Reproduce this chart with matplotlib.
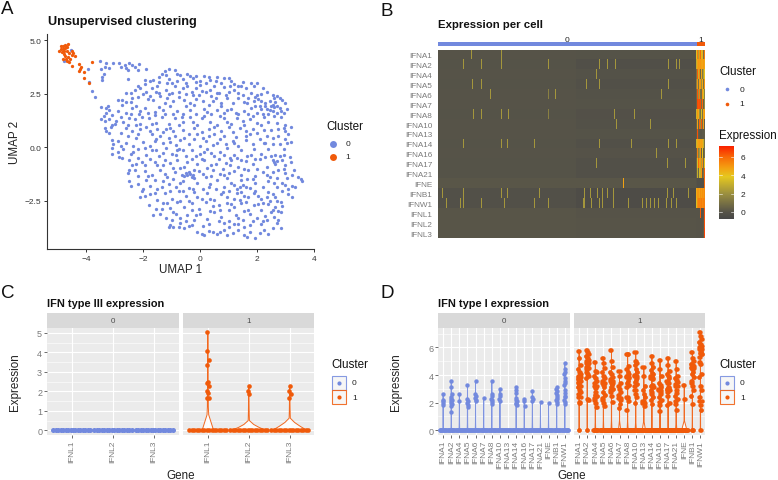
import numpy as np
import matplotlib
matplotlib.use("Agg")
import matplotlib.pyplot as plt
from matplotlib.colors import LinearSegmentedColormap
from matplotlib.patches import Rectangle

plt.rcParams['font.family'] = ['Liberation Sans', 'DejaVu Sans']

W, H = 778, 481
BLUE = '#7289DE'
ORANGE = '#F05A0A'
GRAY = '#7a7a7a'

# panel A, UMAP coordinates
cluster1_umap = [(-4.89,4.75),(-4.81,4.6),(-4.64,4.83),(-4.95,4.52),(-4.87,4.44),(-4.75,4.63),(-4.84,4.75),(-4.73,4.72),
    (-4.69,4.52),(-4.52,4.52),(-4.46,4.41),(-4.4,4.28),(-4.75,4.25),(-4.64,4.21),(-4.81,4.13),(-4.69,4.05),(-4.6,3.97),
    (-4.52,3.82),(-4.58,4.13),(-4.25,3.9),(-4.2,3.74),(-4.28,3.58),(-4.07,3.5),(-4.07,3.22),(-3.9,3.0),(-3.81,3.97),
    (-4.78,4.5),(-4.7,4.68),(-4.8,4.35),(-4.72,4.15),(-4.62,4.4),(-4.5,4.3),(-4.22,3.65),(-4.9,4.6),(-4.77,4.78)]
cluster0_umap = [(-4.55,4.55),(-4.8,4.05),(-3.93,3.65),(-3.9,3.05),(-3.8,2.65),(-3.7,2.35),
    (-3.52,4.05),(-3.3,3.95),(-3.05,3.93),(-2.85,3.93),(-2.8,3.75),(-3.2,3.7),(-3.35,3.75),(-3.5,3.65),(-3.45,3.3),
    (-3.45,3.15),(-3.4,3.45),(-2.65,3.85),(-2.6,3.7),(-2.5,3.92),(-2.4,3.85),(-2.3,3.75),(-2.2,3.6),(-2.55,3.6),
    (-2.15,3.9),(-1.9,3.65),(-1.25,3.55),(-1.1,3.65),(-0.9,3.6),(-0.8,3.45),(-0.7,3.4),
    (-2.55,3.2),(-1.95,3.15),(-1.95,2.95),(-1.65,3.15),(-1.45,3.3),(-1.35,3.45),(-1.2,3.4),(-1.1,3.2),(-1.0,3.0),
    (-0.8,3.1),(-0.6,3.2),(-0.45,3.45),(-0.35,3.35),(-0.25,3.25),(-0.15,3.35),(0.15,3.35),(0.3,3.3),(0.35,3.15),
    (0.2,3.0),(0.0,3.1),(0.55,3.1),(0.75,3.0),(0.85,3.25),(1.0,3.25),(1.1,3.1),(1.2,2.95),(1.5,3.05),(1.8,3.0),
    (1.9,2.85),(2.0,3.0),(-0.5,3.0),(-1.45,3.05),(-1.75,3.1),(-2.2,2.85),(-1.5,2.85),
    (-2.6,2.55),(-2.3,2.7),(-2.1,2.75),(-1.9,2.6),(-1.7,2.75),(-1.45,2.55),(-1.2,2.7),(-1.0,2.55),(-0.75,2.6),
    (-0.6,2.75),(-0.5,2.5),(-0.3,2.6),(-0.15,2.75),(0.0,2.9),(0.05,2.65),(0.2,2.6),(0.35,2.7),(0.5,2.85),(0.65,2.55),
    (0.85,2.8),(1.0,2.6),(1.2,2.7),(1.35,2.55),(1.6,2.75),(1.8,2.55),(2.0,2.45),(2.2,2.75),(2.15,2.5),(2.35,2.6),
    (2.55,2.45),(2.7,2.4),(-0.25,2.45),(0.4,2.4),
    (-2.4,2.3),(-2.2,2.35),(-2.0,2.5),(-1.85,2.25),(-1.65,2.2),(-1.4,2.4),(-1.15,2.3),(-0.95,2.15),(-0.75,2.35),
    (-0.55,2.2),(-0.35,2.05),(-0.15,2.25),(0.1,2.15),(0.3,2.0),(0.55,2.3),(0.75,2.05),(0.95,2.3),(1.15,2.05),
    (1.35,2.3),(1.55,2.1),(1.7,2.3),(1.9,2.15),(2.05,2.25),(2.3,2.05),(2.45,2.15),(2.6,2.3),(2.8,2.3),(2.9,2.2),
    (3.0,2.05),(2.55,2.0),(-2.9,2.2),(-2.75,2.2),(-2.6,2.1),(-2.75,2.0),
    (-3.5,1.9),(-3.3,1.85),(-3.25,1.95),(-3.2,1.75),(-2.9,1.7),(-2.6,1.6),(-2.4,1.85),(-2.25,1.95),(-2.1,1.7),
    (-1.85,1.6),(-1.6,1.65),(-1.3,1.75),(-1.05,1.95),(-0.8,1.7),(-0.6,1.55),(-0.35,1.75),(-0.15,1.55),(0.15,1.8),
    (0.4,1.55),(0.6,1.75),(0.85,1.6),(1.1,1.8),(1.35,1.55),(1.55,1.7),(1.8,1.85),(2.0,1.6),(2.15,1.8),(2.3,1.95),
    (2.45,1.75),(2.6,1.9),(2.8,1.85),(2.7,1.6),(3.05,1.8),(2.95,1.6),
    (-3.5,1.3),(-3.4,1.45),(-3.35,1.25),(-3.2,1.3),(-3.1,1.5),(-3.0,1.1),(-2.8,1.4),(-2.7,1.2),(-2.55,1.05),(-2.3,1.3),
    (-2.1,1.1),(-2.05,1.4),(-1.8,1.35),(-1.55,1.15),(-1.35,1.4),(-1.1,1.1),(-0.9,1.35),(-0.6,1.2),(-0.35,1.4),
    (-0.1,1.05),(0.15,1.45),(0.35,1.2),(0.6,1.05),(0.85,1.35),(1.1,1.1),(1.3,1.35),(1.55,1.05),(1.75,1.3),(2.0,1.15),
    (2.25,1.4),(2.4,1.2),(2.7,1.15),(2.85,1.4),(3.0,1.05),(3.2,0.95),
    (-3.35,0.9),(-3.3,0.75),(-3.2,0.65),(-2.6,0.9),(-2.4,0.75),(-2.1,0.85),(-1.9,0.95),(-1.7,0.6),(-1.5,0.85),(-1.3,0.7),
    (-1.05,0.9),(-0.9,0.55),(-0.6,0.8),(-0.4,0.6),(-0.2,0.9),(0.05,0.7),(0.3,0.85),(0.5,0.6),(0.75,0.75),(1.0,0.95),
    (1.15,0.7),(1.4,0.9),(1.6,0.55),(1.85,0.85),(2.0,0.65),(2.35,0.55),(2.5,0.8),(2.75,0.55),(3.0,0.75),(3.1,0.6),
    (-3.1,0.35),(-3.05,0.15),(-2.9,0.3),(-2.6,0.2),(-2.25,0.45),(-2.0,0.25),(-1.75,0.05),(-1.55,0.4),(-1.3,0.2),(-1.1,0.45),
    (-0.85,0.1),(-0.7,0.35),(-0.4,0.15),(-0.2,0.4),(0.0,0.05),(0.2,0.3),(0.45,0.1),(0.7,0.4),(0.9,0.15),(1.15,0.3),
    (1.35,0.05),(1.6,0.35),(1.85,0.15),(2.1,0.4),(2.3,0.2),(2.55,0.45),(2.8,0.15),(3.05,0.2),(3.2,0.25),(3.0,0.4),
    (-3.1,-0.05),(-3.1,-0.3),(-2.9,-0.2),(-2.7,-0.1),(-2.45,-0.3),(-2.2,-0.1),(-1.9,-0.35),(-1.7,-0.15),(-1.45,-0.4),
    (-1.2,-0.05),(-1.0,-0.3),(-0.75,-0.1),(-0.5,-0.4),(-0.3,-0.15),(0.0,-0.3),(0.25,-0.1),(0.5,-0.4),(0.7,-0.2),(0.95,-0.05),
    (1.2,-0.35),(1.45,-0.15),(1.65,-0.4),(1.9,-0.1),(2.15,-0.3),(2.4,-0.1),(2.65,-0.35),(2.95,-0.1),(3.15,-0.45),
    (-2.5,-0.6),(-2.4,-0.85),(-2.05,-0.7),(-1.75,-0.55),(-1.5,-0.85),(-1.25,-0.6),(-1.05,-0.75),(-0.8,-0.6),(-0.55,-0.9),
    (-0.3,-0.55),(-0.1,-0.8),(0.15,-0.6),(0.4,-0.85),(0.65,-0.55),(0.9,-0.75),(1.1,-0.6),(1.35,-0.9),(1.6,-0.65),(1.85,-0.8),
    (2.1,-0.55),(2.55,-0.6),(2.6,-0.7),(2.7,-0.65),(2.65,-0.8),(3.0,-0.85),(3.2,-0.7),(2.9,-0.6),
    (-2.55,-1.2),(-2.5,-1.05),(-2.2,-1.35),(-1.95,-1.1),(-1.7,-1.3),(-1.4,-1.05),(-1.15,-1.4),(-0.9,-1.15),(-0.65,-1.3),
    (-0.45,-1.3),(-0.35,-1.25),(-0.3,-1.4),(-0.05,-1.1),(0.2,-1.4),(0.45,-1.05),(0.7,-1.25),(0.95,-1.45),(1.2,-1.1),(1.45,-1.3),
    (1.7,-1.05),(1.95,-1.35),(2.2,-1.15),(2.45,-1.4),(2.75,-1.05),(3.0,-1.2),(3.25,-1.3),(3.45,-1.4),(3.55,-1.5),(3.6,-1.6),(3.05,-1.45),
    (-2.5,-1.6),(-2.45,-1.8),(-2.0,-1.95),(-1.75,-1.8),(-1.5,-1.95),(-1.3,-1.6),(-1.1,-1.7),(-0.85,-1.85),(-0.6,-1.6),(-0.4,-1.9),
    (-0.1,-1.65),(0.1,-1.95),(0.35,-1.7),(0.6,-1.55),(0.85,-1.85),(1.1,-1.65),(1.3,-1.95),(1.5,-1.75),(1.75,-1.9),(1.95,-1.65),
    (2.2,-1.85),(2.4,-1.6),(2.7,-1.85),(2.9,-1.65),(3.1,-1.95),(3.35,-1.85),(3.25,-1.8),
    (-2.05,-2.05),(-1.95,-2.3),(-2.1,-2.35),(-1.75,-2.2),(-1.5,-2.45),(-1.25,-2.15),(-1.0,-2.4),(-0.75,-2.05),(-0.5,-2.3),(-0.2,-2.1),
    (0.05,-2.4),(0.25,-2.15),(0.5,-2.45),(0.75,-2.2),(1.0,-2.05),(1.2,-2.4),(1.45,-2.1),(1.7,-2.35),(1.9,-2.15),(2.15,-2.4),
    (2.4,-2.1),(2.65,-2.35),(2.9,-2.05),(3.1,-2.2),(3.25,-2.35),
    (-1.8,-2.7),(-1.55,-2.9),(-1.3,-2.6),(-1.05,-2.85),(-0.8,-2.55),(-0.55,-2.8),(-0.3,-2.6),(-0.05,-2.9),(0.2,-2.55),(0.45,-2.75),
    (0.7,-2.95),(0.95,-2.6),(1.2,-2.8),(1.45,-2.6),(1.7,-2.95),(1.9,-2.7),(2.15,-2.95),(2.4,-2.65),(2.65,-2.8),(2.85,-2.55),(2.7,-2.5),(2.9,-2.75),(2.55,-2.95),
    (-1.65,-3.15),(-1.4,-3.1),(-1.2,-3.3),(-0.95,-3.05),(-0.7,-3.3),(-0.45,-3.15),(-0.2,-3.4),(0.0,-3.1),(0.25,-3.35),(0.5,-3.05),
    (0.75,-3.25),(1.0,-3.45),(1.25,-3.15),(1.5,-3.4),(1.75,-3.1),(2.0,-3.3),(2.2,-3.45),(2.5,-3.05),(2.6,-3.25),(2.75,-3.4),(2.85,-3.05),
    (-1.05,-3.65),(-0.95,-3.75),(-1.1,-3.75),(-0.7,-3.55),(-0.55,-3.8),(-0.3,-3.65),(-0.1,-3.95),(0.05,-4.05),(0.15,-4.1),(0.45,-3.95),
    (0.6,-4.05),(0.7,-3.95),(0.95,-4.1),(1.0,-3.75),(1.2,-3.6),(1.35,-3.85),(1.55,-3.75),(1.55,-4.1),(1.75,-3.65),(1.65,-4.2),
    (1.95,-4.25),(2.1,-4.0),(2.25,-3.85),(2.4,-4.05),(2.7,-3.55),(2.85,-3.8),(-0.4,-3.7),(0.3,-3.6),(1.15,-4.0),
    # second pass through the cloud
    (-2.45,2.1),(-1.75,2.4),(-1.25,2.05),(-0.45,2.85),(0.45,2.15),(1.05,2.85),(1.45,2.85),(1.95,2.35),(2.5,1.95),(2.85,1.7),
    (-2.95,1.25),(-2.45,1.55),(-1.95,1.85),(-1.45,1.9),(-0.95,1.55),(-0.5,1.95),(0.05,1.35),(0.7,1.45),(1.25,1.6),(1.95,1.95),
    (-2.25,1.05),(-1.7,1.1),(-1.2,0.85),(-0.75,1.05),(-0.25,1.2),(0.5,0.95),(0.95,1.2),(1.5,1.25),(2.15,1.05),(2.6,1.45),
    (-2.8,0.65),(-2.2,0.6),(-1.6,0.3),(-1.05,0.25),(-0.55,0.45),(0.1,0.45),(0.6,0.2),(1.25,0.5),(1.75,0.6),(2.25,0.8),
    (-2.8,0.05),(-2.35,0.05),(-1.95,-0.05),(-1.3,-0.25),(-0.85,-0.35),(-0.15,-0.4),(0.4,-0.25),(0.85,-0.35),(1.3,-0.5),(1.8,-0.35),
    (2.3,-0.45),(2.8,-0.4),(-2.75,-0.5),(-2.2,-0.5),(-1.6,-0.7),(-0.95,-0.95),(-0.45,-0.7),(0.25,-0.95),(0.8,-1.0),(1.45,-0.6),
    (2.0,-1.0),(2.35,-0.9),(2.95,-1.0),(-2.3,-1.05),(-1.6,-1.55),(-0.95,-1.5),(-0.2,-1.45),(0.4,-1.35),(1.0,-1.2),(1.65,-1.5),
    (2.35,-1.3),(2.7,-1.45),(-2.2,-1.7),(-1.05,-2.05),(-0.25,-1.95),(0.55,-1.95),(1.2,-1.75),(1.95,-2.05),(2.6,-1.65),(3.0,-1.75),
    (-1.6,-2.15),(-0.7,-2.5),(-0.1,-2.35),(0.95,-2.35),(1.4,-2.45),(2.05,-2.65),(2.55,-2.2),(-1.35,-2.9),(-0.3,-2.95),(0.35,-3.0),
    (1.0,-2.95),(1.55,-3.0),(2.3,-3.2),(2.75,-3.0),(-1.0,-3.4),(-0.5,-3.45),(0.3,-3.9),(0.85,-3.55),(1.75,-3.95),(2.15,-3.6),
    (-1.6,1.5),(-0.2,2.0),(0.6,2.55),(1.5,2.45),(2.15,2.15),(2.65,2.1),(2.4,1.55),(2.95,0.9),(1.2,0.2),(0.3,0.55),
    (-1.4,0.55),(-2.55,0.55),(-0.8,-0.15),(0.05,-0.55),(1.05,-0.85),(1.55,-2.3),(0.65,-2.7),(-0.7,-1.65),(-1.9,-1.55),(-2.25,-0.8),
    (-3.1,1.05),(-2.5,1.35),(-1.1,2.5),(0.75,1.95),(1.85,1.45),(2.75,0.85),(2.55,0.15),(2.95,-0.35),(3.3,-1.05),(2.45,-2.5),
    # third pass, the denser stretches
    (-1.55,2.6),(-0.9,2.85),(-0.05,2.45),(0.9,2.45),(1.65,2.05),(2.2,1.55),(2.55,1.7),(2.35,1.8),(2.1,1.95),(2.7,1.95),
    (-2.15,1.55),(-1.25,1.55),(-0.65,1.4),(0.25,1.65),(0.95,1.75),(1.7,1.55),(-1.75,0.75),(-0.95,0.75),(-0.1,0.6),(0.85,0.55),
    (1.6,0.75),(2.25,0.2),(-2.35,-0.2),(-1.55,-0.15),(-0.6,-0.15),(0.15,-0.2),(1.05,-0.5),(1.95,-0.55),(2.5,-0.4),(-1.95,-0.85),
    (-1.3,-0.85),(-0.7,-0.95),(-0.2,-1.05),(0.55,-0.8),(1.55,-1.0),(-0.55,-1.35),(-0.5,-1.2),(-0.25,-1.3),(-0.4,-1.15),(-1.85,-1.35),
    (-1.25,-1.25),(0.1,-1.25),(0.85,-1.3),(1.45,-1.55),(1.6,-1.85),(1.4,-1.85),(1.85,-1.5),(2.55,-1.15),(-1.35,-1.85),(-0.6,-2.05),
    (0.3,-1.85),(0.8,-2.1),(1.3,-2.15),(2.05,-2.3),(2.35,-2.35),(-1.15,-2.6),(-0.4,-2.5),(0.35,-2.4),(1.1,-2.65),(1.6,-2.55),
    (2.2,-2.6),(-0.85,-3.1),(-0.15,-3.15),(0.65,-3.45),(1.35,-3.3),(1.85,-3.45),(2.35,-3.4),(-0.75,-3.75),(0.1,-3.7),(0.85,-3.85),
    (1.35,-3.6),(2.55,-3.8),(-1.15,3.0),(-0.15,3.05),(0.6,3.3),(1.35,2.85),(-2.45,2.55),(-3.3,1.6),(-3.15,0.95),(-2.85,-0.45)]

# panel B, heatmap read as small columns
heat_genes = ['IFNA1','IFNA2','IFNA4','IFNA5','IFNA6','IFNA7','IFNA8','IFNA10','IFNA13','IFNA14','IFNA16','IFNA17','IFNA21',
              'IFNE','IFNB1','IFNW1','IFNL1','IFNL2','IFNL3']
base_left = [0.0,-0.05,0.0,-0.05,0.0,0.0,-0.03,0.0,0.0,-0.05,0.0,-0.03,-0.03,0.08,-0.2,-0.2,0.05,0.05,0.05]
base_right = [-0.05,-0.25,-0.1,-0.2,-0.1,-0.03,-0.15,-0.12,-0.03,-0.2,-0.08,-0.18,-0.18,0.08,-0.4,-0.4,0.0,0.03,0.03]
# spikes per gene, as cell index within the 258 shown cells of cluster 0
spike_cells = {
    'IFNA1': [33,63],
    'IFNA2': [25,43,63,110,161,169,177,230,238,241],
    'IFNA4': [158],
    'IFNA5': [34,43,148,161,230],
    'IFNA6': [52,110,117,223],
    'IFNA8': [35,43,63,70,110,176,196],
    'IFNA10': [178,212],
    'IFNA14': [25,63,69,96,161,193,230,238],
    'IFNA16': [218],
    'IFNA17': [158,229,247],
    'IFNE': [185],
    'IFNB1': [4,25,63,69,101,146,152,159,164,169,175,229,235,250],
    'IFNW1': [8,22,25,43,66,96,110,145,146,153,161,164,175,190,204,208,212,216,220,228,233,238],
}
# values of the 9 cluster 1 columns, gene by gene
cluster1_cells = [
    [3.6,5.6,2.5,5.0,6.0,3.5,4.5,1.0,5.6],
    [3.0,4.8,5.0,4.9,5.0,4.8,4.7,5.0,4.6],
    [1.0,6.2,3.0,5.4,0.6,4.7,1.2,2.5,4.0],
    [1.5,5.0,1.0,4.8,5.0,2.0,4.6,1.0,5.0],
    [0.6,6.3,2.0,5.6,1.0,0.8,5.0,3.5,1.5],
    [0.5,6.5,6.3,6.4,6.4,1.0,6.0,0.5,2.0],
    [3.2,5.0,4.5,2.0,1.0,3.5,1.0,4.6,5.0],
    [0.5,4.8,0.5,6.0,2.0,6.3,1.0,4.9,0.4],
    [0.2,6.4,0.4,0.2,0.1,0.1,0.2,0.2,0.3],
    [3.2,4.6,4.8,4.9,4.7,4.8,4.6,3.0,1.0],
    [0.3,5.5,1.5,2.2,5.0,0.5,4.0,0.3,1.0],
    [0.6,3.5,6.0,4.8,5.0,2.5,5.2,1.0,4.0],
    [0.4,3.0,0.6,3.4,3.0,5.0,0.4,1.0,6.2],
    [0.0,-0.2,-0.2,-0.2,-0.2,-0.2,-0.2,-0.2,6.0],
    [4.5,5.0,5.0,4.7,5.2,4.9,5.2,5.0,5.3],
    [3.5,5.2,5.5,5.5,5.4,5.6,5.3,5.5,5.5],
    [0.0,0.0,0.0,0.0,6.2,0.0,0.0,0.2,6.4],
    [0.0,0.0,0.0,0.0,0.0,0.0,0.0,0.2,6.4],
    [0.0,0.0,0.0,0.0,0.0,0.0,0.0,0.3,6.6]]
spike_value = 2.2
cbar_ticks = [0,2,4,6]

# panel C, type III genes
genes_iii = ['IFNL1','IFNL2','IFNL3']
iii_points = {
    'IFNL1': [(-0.01,5.02),(-0.01,4.05),(0.02,3.62),(-0.01,3.35),(0.01,2.5),(-0.03,2.42),(0.03,2.25),(-0.01,2.0),(0.01,1.9),(-0.03,1.68),(0.02,1.68)],
    'IFNL2': [(0.0,2.26),(-0.02,2.0),(0.01,1.88)],
    'IFNL3': [(0.0,2.26),(-0.02,2.0),(0.02,1.88),(-0.01,1.68)],
}
iii_violin_y = {'IFNL1': [0,0.4,0.8,1.2,5.02], 'IFNL2': [0,0.15,0.3,0.5,0.9,2.26], 'IFNL3': [0,0.2,0.4,0.62,1.0,2.26]}
iii_violin_w = {'IFNL1': [0.14,0.08,0.02,0.012,0.002], 'IFNL2': [0.42,0.25,0.12,0.015,0.01,0.002], 'IFNL3': [0.42,0.26,0.12,0.015,0.01,0.002]}

# panel D, type I genes
genes_i = ['IFNA1','IFNA2','IFNA4','IFNA5','IFNA6','IFNA7','IFNA8','IFNA10','IFNA13','IFNA14','IFNA16','IFNA17','IFNA21','IFNE','IFNB1','IFNW1']
i_cluster0 = [[2.65,2.2,2.1,2.0,1.85],
    [3.55,3.15,2.6,2.4,2.3,2.2,2.1,2.0,1.9,1.75,1.35],
    [2.6,2.15],
    [3.3,2.25,2.1,2.0,1.85,1.65],
    [3.55,2.6,2.45,2.35,2.2,2.1],
    [2.35],
    [3.55,2.65,2.45,2.3,2.2,2.05,1.9],
    [3.0,2.6,2.45,2.3,2.1],
    [],
    [3.1,2.95,2.7,2.35,2.2,2.1,2.0,1.9,1.8],
    [2.25,2.15,1.75],
    [2.85,2.4,2.25,2.1],
    [2.05],
    [2.0],
    [3.1,3.0,2.85,2.7,2.55,2.4,2.3,2.2,2.05,1.9],
    [4.9,4.4,4.2,4.05,3.8,3.6,3.4,3.25,2.95,2.7,2.5,2.4,2.2,2.05,1.9]]
i_cluster1 = [[5.75,5.2,4.7,4.4,4.25,4.05,3.95,3.85,3.8,3.75,3.7,3.6,3.5,3.4,3.3,3.2,3.1,2.95,2.8,2.6,2.4,2.05,2.0],
    [5.8,5.7,5.55,5.4,5.25,5.1,5.0,4.9,4.85,4.75,4.6,4.5,4.4,4.25,4.1,3.95,3.8,2.25,2.2],
    [4.95,4.3,4.2,3.9,3.75,3.55,3.4,3.2,3.05,2.75,2.55,2.45,2.35,2.2,2.0,1.7],
    [5.2,4.9,4.5,4.2,3.95,3.75,3.6,3.4,3.3,3.1,2.75,2.55,2.35,2.2,2.0,1.75],
    [5.8,5.0,4.6,4.25,4.05,3.85,3.7,3.6,3.45,3.3,3.15,3.0,2.9,2.75,2.5,2.05],
    [4.3,3.9,3.4,3.2,3.0,2.8,2.55,2.35,2.2,1.9,1.6],
    [5.55,5.5,4.65,4.4,4.2,4.05,3.95,3.85,3.75,3.6,3.45,3.3,3.1,2.4,2.35,2.1,1.5],
    [5.7,5.0,4.9,4.7,4.4,4.2,4.0,3.9,3.8,3.65,3.5,3.35,3.2,2.9,2.6,2.4,2.0],
    [4.55,3.95,3.2,2.9,2.65,2.4,2.15,1.95,1.75],
    [5.4,4.9,4.6,4.35,4.15,4.05,3.9,3.8,3.7,3.3,3.2,3.1,2.95,2.8,2.6,2.4,2.2,1.9],
    [5.1,4.4,3.9,3.4,3.25,3.1,3.0,2.9,2.75,2.6,2.4,2.2,2.05,1.8,1.4],
    [5.25,4.7,4.3,4.05,3.9,3.75,3.6,3.4,3.1,3.05,3.0,2.95,2.9,2.8,2.5,2.0,1.8],
    [5.0,4.45,3.9,3.8,3.65,3.5,3.35,3.2,2.95,2.7,2.5,2.3,2.1,1.9,1.5],
    [3.3,2.3],
    [5.7,5.2,5.0,4.8,4.7,4.65,4.6,4.5,4.4,4.2,4.05,3.85,3.6,3.4,3.2,2.9,2.5,1.9],
    [7.1,6.85,6.6,6.4,6.25,6.1,6.0,5.9,5.8,5.7,5.6,5.5,5.3,4.95,4.8,4.1,3.85,3.2,2.9,2.4,2.15,1.85,1.5]]
i_violin_base = [0.03,0.03,0.05,0.05,0.06,0.14,0.07,0.08,0.2,0.05,0.08,0.06,0.08,0.33,0.03,0.02]
# half width of the zero band in cluster 1, per gene
i_zero_spread = [0.06,0.06,0.3,0.45,0.45,0.5,0.45,0.45,0.5,0.45,0.5,0.45,0.5,0.5,0.1,0.06]
jitter = [0.0,-0.08,0.09,-0.15,0.06,0.17,-0.04,-0.19,0.13,0.02,-0.1,0.2,-0.17]
zero_band = [-0.45,-0.39,-0.33,-0.27,-0.21,-0.15,-0.09,-0.03,0.03,0.09,0.15,0.21,0.27,0.33,0.39,0.45]


def px_axes(fig, left, top, right, bottom):
    return fig.add_axes([left / W, 1 - bottom / H, (right - left) / W, (bottom - top) / H])


def px_text(fig, x, y, s, **kw):
    kw.setdefault('va', 'center')
    fig.text(x / W, 1 - y / H, s, **kw)


def px_rect(fig, x0, y0, x1, y1, **kw):
    fig.add_artist(Rectangle((x0 / W, 1 - y1 / H), (x1 - x0) / W, (y1 - y0) / H, transform=fig.transFigure, **kw))


def px_dot(fig, x, y, color, size):
    fig.add_artist(plt.Line2D([x / W], [1 - y / H], marker='o', ms=size, mfc=color, mec='none', ls='', transform=fig.transFigure))


def draw_violin(ax, pos, ys, widths, color):
    ys = np.array(ys)
    widths = np.array(widths)
    xs = np.concatenate([pos - widths, (pos + widths)[::-1]])
    ax.fill(xs, np.concatenate([ys, ys[::-1]]), fc='white', ec=color, lw=0.7, zorder=2, alpha=0.9)


def facet_style(ax, genes, ymajor, yminor, ylim, show_y):
    ax.set_facecolor('#EBEBEB')
    ax.set_xlim(0.4, len(genes) + 0.6)
    ax.set_ylim(*ylim)
    ax.set_xticks(range(1, len(genes) + 1))
    ax.set_xticklabels(genes, rotation=90, fontsize=6, color=GRAY, ha='center', va='top')
    ax.set_yticks(ymajor)
    ax.set_yticks(yminor, minor=True)
    ax.grid(True, which='major', color='white', lw=0.8, zorder=0)
    ax.grid(True, which='minor', axis='y', color='white', lw=0.4, zorder=0)
    ax.set_axisbelow(True)
    for s in ax.spines.values():
        s.set_visible(False)
    ax.tick_params(axis='both', which='major', length=2, width=0.6, color='#555555', pad=1.5)
    ax.tick_params(axis='y', labelsize=6.5, labelcolor=GRAY, left=show_y, labelleft=show_y)
    ax.tick_params(axis='y', which='minor', length=0)


def strip(fig, x0, x1, label):
    px_rect(fig, x0, 314.3, x1, 329, fc='#D9D9D9', ec='none')
    px_text(fig, (x0 + x1) / 2, 321.7, label, ha='center', fontsize=5.8, color='#4d4d4d')


def boxed_legend(fig, x):
    px_text(fig, x, 365, 'Cluster', fontsize=8.4, color='#111111')
    for y0, col, lab in [(377, BLUE, '0'), (391.3, ORANGE, '1')]:
        px_rect(fig, x + 0.5, y0, x + 14.5, y0 + 13.5, fc='#F5F5F5', ec=col, lw=0.8, alpha=0.85)
        px_dot(fig, x + 7.5, y0 + 6.8, col, 3)
        px_text(fig, x + 21, y0 + 6.8, lab, fontsize=6, color='#222222')


def plot_umap(fig):
    ax = px_axes(fig, 47, 35, 314, 250)
    pts = np.array(cluster0_umap)
    ax.scatter(pts[:, 0], pts[:, 1], s=5.6, c=BLUE, linewidths=0, clip_on=False)
    pts = np.array(cluster1_umap)
    ax.scatter(pts[:, 0], pts[:, 1], s=5.6, c=ORANGE, linewidths=0, clip_on=False)
    ax.set_xlim(-5.39, 4.01)
    ax.set_ylim(-4.76, 5.3)
    ax.set_xticks([-4, -2, 0, 2, 4])
    ax.set_yticks([-2.5, 0, 2.5, 5])
    ax.set_yticklabels(['\u22122.5', '0.0', '2.5', '5.0'])
    ax.tick_params(labelsize=6, length=2.5, width=0.7, color='#333333', labelcolor='#333333', pad=1.5)
    ax.spines['top'].set_visible(False)
    ax.spines['right'].set_visible(False)
    ax.spines['left'].set_color('#333333')
    ax.spines['bottom'].set_color('#333333')
    ax.spines['left'].set_linewidth(0.8)
    ax.spines['bottom'].set_linewidth(0.8)
    px_text(fig, 47.5, 22, 'Unsupervised clustering', fontsize=9.2, fontweight='bold', color='#111111')
    px_text(fig, 181, 270, 'UMAP 1', ha='center', fontsize=8.4, color='#222222')
    px_text(fig, 15.5, 142, 'UMAP 2', ha='center', rotation=90, fontsize=8.4, color='#222222')
    px_text(fig, 326, 127, 'Cluster', fontsize=8.4, color='#111111')
    px_dot(fig, 333, 145, BLUE, 5)
    px_dot(fig, 333, 157.7, ORANGE, 5)
    px_text(fig, 345.5, 145, '0', fontsize=6, color='#222222')
    px_text(fig, 345.5, 157.7, '1', fontsize=6, color='#222222')


def plot_heat(fig):
    n0, n1 = 258, 9
    split = 138
    heat = np.zeros((len(heat_genes), n0 + n1))
    for i, g in enumerate(heat_genes):
        heat[i, :split] = base_left[i]
        heat[i, split:n0] = base_right[i]
        for c in spike_cells.get(g, []):
            heat[i, c] = spike_value
        heat[i, n0:] = cluster1_cells[i]
    heat[heat_genes.index('IFNA6'), 110] = 1.5
    heat[heat_genes.index('IFNA8'), 110] = 1.5
    heat[heat_genes.index('IFNE'), 185] = 4.8

    colors = [(0.0, '#474747'), (0.097, '#575449'), (0.347, '#9C9040'), (0.58, '#E6C81F'),
              (0.72, '#F59A10'), (0.85, '#F86A08'), (1.0, '#FA2000')]
    cmap = LinearSegmentedColormap.from_list('expr', colors)
    vmin, vmax = -0.77, 7.2

    ax = px_axes(fig, 438, 50.7, 705, 239)
    ax.imshow(heat, aspect='auto', cmap=cmap, vmin=vmin, vmax=vmax, interpolation='nearest')
    ax.set_xticks([])
    ax.set_yticks(range(len(heat_genes)))
    ax.set_yticklabels(heat_genes, fontsize=5.9, color=GRAY)
    ax.tick_params(axis='y', length=0, pad=4)
    for s in ax.spines.values():
        s.set_visible(False)

    px_rect(fig, 438, 43, 696.7, 47, fc=BLUE, ec='none')
    px_rect(fig, 696.7, 43, 705, 47, fc=ORANGE, ec='none')
    px_text(fig, 567, 40, '0', ha='center', fontsize=6, color='#222222')
    px_text(fig, 701, 40, '1', ha='center', fontsize=6, color='#222222')
    px_text(fig, 438, 25, 'Expression per cell', fontsize=8.2, fontweight='bold', color='#111111')

    px_text(fig, 719, 72, 'Cluster', fontsize=8.4, color='#111111')
    px_dot(fig, 727, 90, BLUE, 2.6)
    px_dot(fig, 727, 105, ORANGE, 2.6)
    px_text(fig, 739.5, 90, '0', fontsize=6, color='#222222')
    px_text(fig, 739.5, 105, '1', fontsize=6, color='#222222')
    px_text(fig, 719, 136, 'Expression', fontsize=8.4, color='#111111')

    cax = px_axes(fig, 719.3, 147, 734, 220)
    cax.imshow(np.linspace(vmax, vmin, 256)[:, None], aspect='auto', cmap=cmap, vmin=vmin, vmax=vmax,
               extent=[0, 1, vmin, vmax])
    cax.set_xticks([])
    cax.yaxis.tick_right()
    cax.set_yticks(cbar_ticks)
    cax.tick_params(axis='y', labelsize=6, labelcolor='#222222', length=0, pad=5)
    for s in cax.spines.values():
        s.set_visible(False)
    for t in cbar_ticks:
        cax.plot([0, 0.2], [t, t], color='white', lw=0.4)
        cax.plot([0.8, 1], [t, t], color='white', lw=0.4)
    cax.set_xlim(0, 1)


def plot_iii(fig):
    ax0 = px_axes(fig, 47, 329, 179, 436)
    ax1 = px_axes(fig, 183.3, 329, 314.3, 436)
    ymajor = [0, 1, 2, 3, 4, 5]
    yminor = [0.5, 1.5, 2.5, 3.5, 4.5]
    for k, g in enumerate(genes_iii):
        pos = k + 1
        ax0.scatter([pos + z for z in zero_band], [0] * len(zero_band), s=13, c=BLUE, linewidths=0, zorder=3)
        draw_violin(ax1, pos, iii_violin_y[g], iii_violin_w[g], ORANGE)
        ax1.scatter([pos + z for z in zero_band], [0] * len(zero_band), s=11, c=ORANGE, linewidths=0, zorder=3)
        pts = np.array(iii_points[g])
        ax1.scatter(pos + pts[:, 0], pts[:, 1], s=11, c=ORANGE, linewidths=0, zorder=3)
    facet_style(ax0, genes_iii, ymajor, yminor, (-0.24, 5.25), True)
    facet_style(ax1, genes_iii, ymajor, yminor, (-0.24, 5.25), False)
    strip(fig, 47, 179, '0')
    strip(fig, 183.3, 314.3, '1')
    px_text(fig, 47, 303.7, 'IFN type III expression', fontsize=7.9, fontweight='bold', color='#111111')
    px_text(fig, 15.5, 382, 'Expression', ha='center', rotation=90, fontsize=8.4, color='#222222')
    px_text(fig, 181, 475.7, 'Gene', ha='center', fontsize=8.4, color='#222222')
    boxed_legend(fig, 331)


def plot_i(fig):
    ax0 = px_axes(fig, 438.3, 329, 569.7, 436)
    ax1 = px_axes(fig, 574.3, 329, 705.3, 436)
    ymajor = [0, 2, 4, 6]
    yminor = [1, 3, 5, 7]
    for k, g in enumerate(genes_i):
        pos = k + 1
        vals = i_cluster0[k]
        if vals:
            draw_violin(ax0, pos, [0, 0.6, max(vals)], [0.04, 0.02, 0.002], BLUE)
            ax0.scatter([pos + jitter[j % 13] * 0.4 for j in range(len(vals))], vals, s=10, c=BLUE, linewidths=0, zorder=3)
        ax0.scatter([pos + z for z in zero_band], [0] * len(zero_band), s=9, c=BLUE, linewidths=0, zorder=3)

        vals = i_cluster1[k]
        draw_violin(ax1, pos, [0, 0.7, 1.0, max(vals)], [i_violin_base[k], 0.015, 0.015, 0.002], ORANGE)
        # dense blobs, each reading drawn on both sides of the gene
        ax1.scatter([pos + jitter[j % 13] for j in range(len(vals))], vals, s=10, c=ORANGE, linewidths=0, zorder=3)
        ax1.scatter([pos - jitter[(j + 5) % 13] for j in range(len(vals))], vals, s=10, c=ORANGE, linewidths=0, zorder=3)
        zs = [z for z in zero_band if abs(z) <= i_zero_spread[k]]
        ax1.scatter([pos + z for z in zs], [0] * len(zs), s=10, c=ORANGE, linewidths=0, zorder=3)
    facet_style(ax0, genes_i, ymajor, yminor, (-0.34, 7.4), True)
    facet_style(ax1, genes_i, ymajor, yminor, (-0.34, 7.4), False)
    strip(fig, 438.3, 569.7, '0')
    strip(fig, 574.3, 705.3, '1')
    px_text(fig, 438, 303.7, 'IFN type I expression', fontsize=7.9, fontweight='bold', color='#111111')
    px_text(fig, 396, 382, 'Expression', ha='center', rotation=90, fontsize=8.4, color='#222222')
    px_text(fig, 572, 475.7, 'Gene', ha='center', fontsize=8.4, color='#222222')
    boxed_legend(fig, 719)


fig = plt.figure(figsize=(W / 100, H / 100), dpi=100)
plot_umap(fig)
plot_heat(fig)
plot_iii(fig)
plot_i(fig)
for x, y, s in [(1, 10, 'A'), (381, 12, 'B'), (1, 294, 'C'), (381, 294, 'D')]:
    px_text(fig, x, y, s, fontsize=13.5, color='#111111')
fig.savefig('out.png', dpi=100)
